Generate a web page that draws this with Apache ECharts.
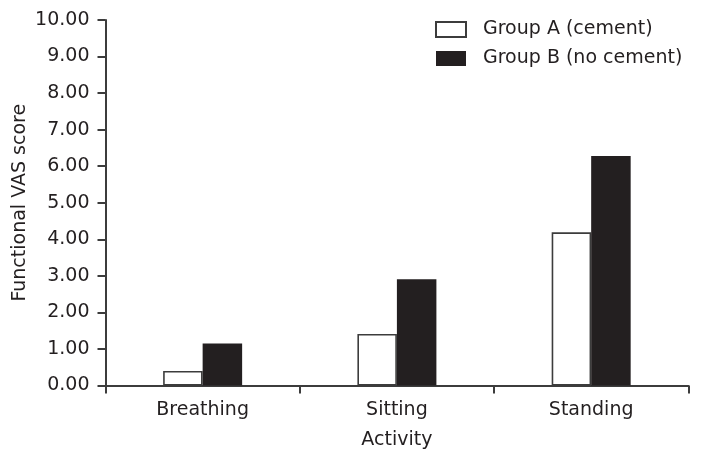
<!DOCTYPE html>
<html>
<head>
<meta charset="utf-8">
<script src="https://cdn.jsdelivr.net/npm/echarts@6/dist/echarts.min.js"></script>
<style>html,body{margin:0;padding:0;background:#fff}#c{width:701px;height:469px}</style>
</head>
<body>
<div id="c"></div>
<script>
const categories = ['Breathing', 'Sitting', 'Standing'];
const groupA = [0.40, 1.41, 4.19];
const groupB = [1.15, 2.91, 6.28];
const seriesNames = ['Group A (cement)', 'Group B (no cement)'];
const yTicks = { min: 0, max: 10, interval: 1 };

const ink = '#231f20';
const lineCol = '#3c3c3c';
const font = '"DejaVu Sans", sans-serif';

const chart = echarts.init(document.getElementById('c'), null, { renderer: 'canvas' });
chart.setOption({
  animation: false,
  backgroundColor: '#fff',
  grid: { left: 105.5, right: 12.7, top: 20, bottom: 83.5, containLabel: false, outerBoundsMode: 'none' },
  legend: {
    orient: 'vertical',
    left: 435, top: 20,
    padding: 0,
    itemWidth: 30, itemHeight: 15, itemGap: 10,
    icon: 'rect',
    textStyle: { fontFamily: font, fontSize: 19, color: ink, lineHeight: 15, padding: [0, 0, 0, 12] },
    data: seriesNames
  },
  xAxis: {
    type: 'category',
    data: categories,
    boundaryGap: true,
    name: 'Activity',
    nameLocation: 'middle',
    nameGap: 45,
    nameMoveOverlap: false,
    nameTextStyle: { fontFamily: font, fontSize: 19, color: ink },
    axisLine: { lineStyle: { color: lineCol, width: 2 } },
    axisTick: { show: true, length: 8, lineStyle: { color: lineCol, width: 2 } },
    axisLabel: { fontFamily: font, fontSize: 19, color: ink, margin: 15 }
  },
  yAxis: {
    type: 'value',
    min: yTicks.min, max: yTicks.max, interval: yTicks.interval,
    name: 'Functional VAS score',
    nameLocation: 'middle',
    nameGap: 76,
    nameMoveOverlap: false,
    nameTextStyle: { fontFamily: font, fontSize: 19, color: ink },
    splitLine: { show: false },
    axisLine: { show: true, lineStyle: { color: lineCol, width: 2 } },
    axisTick: { show: true, length: 8, lineStyle: { color: lineCol, width: 2 } },
    axisLabel: { fontFamily: font, fontSize: 19, color: ink, margin: 16,
      formatter: v => v.toFixed(2) }
  },
  series: [
    {
      name: seriesNames[0], type: 'bar', data: groupA,
      barWidth: 39.5, barGap: '0%',
      itemStyle: { color: '#ffffff', borderColor: lineCol, borderWidth: 1.6 }
    },
    {
      name: seriesNames[1], type: 'bar', data: groupB,
      barWidth: 39.5, barGap: '0%',
      itemStyle: { color: ink, borderColor: ink, borderWidth: 0 }
    }
  ]
});
</script>
</body>
</html>
